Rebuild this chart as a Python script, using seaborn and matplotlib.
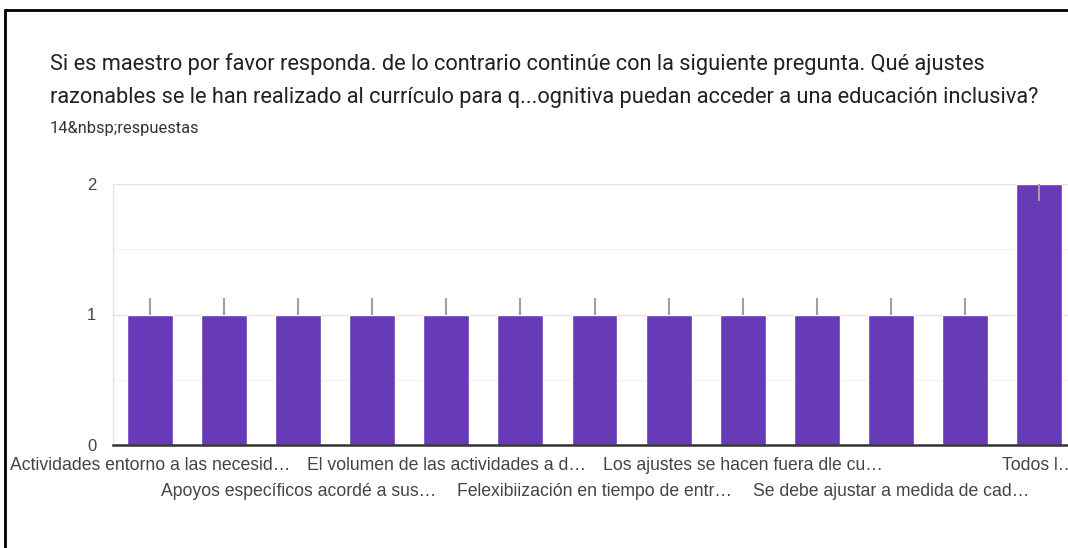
import numpy as np
import pandas as pd
import matplotlib.pyplot as plt
import seaborn as sns
from matplotlib.lines import Line2D

# Datos (13 opciones, solo se ven las etiquetas alternas)
etiquetas = [
    'Actividades entorno a las necesid…', '',
    'Apoyos específicos acordé a sus…', '',
    'El volumen de las actividades a d…', '',
    'Felexibiización en tiempo de entr…', '',
    'Los ajustes se hacen fuera dle cu…', '',
    'Se debe ajustar a medida de cad…', '',
    'Todos l…',
]
valores = [1, 1, 1, 1, 1, 1, 1, 1, 1, 1, 1, 1, 2]
titulo = ('Si es maestro por favor responda. de lo contrario continúe con la siguiente pregunta. Qué ajustes\n'
          'razonables se le han realizado al currículo para q...ognitiva puedan acceder a una educación inclusiva?')
subtitulo = '14&nbsp;respuestas'

sns.set_theme(style="white")
plt.rcParams['font.family'] = ['Liberation Sans', 'DejaVu Sans']

df = pd.DataFrame({'pos': np.arange(len(valores)), 'valor': valores})

fig = plt.figure(figsize=(10.68, 5.48), dpi=100)
ax = fig.add_axes([113 / 1068, 103 / 548, 963 / 1068, 261 / 548])

sns.barplot(data=df, x='pos', y='valor', color='#673ab7', saturation=1,
            width=0.62, ax=ax, zorder=3)

# pequenas lineas grises sobre las barras
vmax = max(valores)
for i, v in enumerate(valores):
    if v < vmax:
        ax.vlines(i, v, v + 0.13, color='#a0a0a0', lw=1.5, zorder=4)
    else:
        ax.vlines(i, v - 0.13, v, color='#a0a0a0', lw=1.5, zorder=4)

ax.set_ylim(0, 2)
ax.set_xlim(-0.5, len(valores) - 0.5)
ax.set_yticks([0, 1, 2])
ax.set_yticks([0.5, 1.5], minor=True)
ax.grid(axis='y', which='major', color='#e4e4e4', lw=1, zorder=0)
ax.grid(axis='y', which='minor', color='#f3f3f3', lw=1, zorder=0)
ax.tick_params(axis='y', which='both', length=0, pad=12, labelsize=12, labelcolor='#444444')
ax.tick_params(axis='x', length=0, labelsize=12.7, labelcolor='#444444', pad=9)

ax.set_xticks(df['pos'])
ax.set_xticklabels(etiquetas)
for k, t in enumerate(ax.xaxis.get_major_ticks()):
    if k % 4 == 2:
        t.set_pad(27)

ax.set_xlabel('')
ax.set_ylabel('')
for s in ['top', 'right']:
    ax.spines[s].set_visible(False)
ax.spines['left'].set_color('#e4e4e4')
ax.spines['left'].set_linewidth(1)
ax.spines['bottom'].set_color('#333333')
ax.spines['bottom'].set_linewidth(1.8)
ax.spines['bottom'].set_zorder(5)

fig.text(50 / 1068, 1 - 53 / 548, titulo, fontsize=15.7, color='#202124',
         family=['Roboto', 'DejaVu Sans'], va='top', ha='left', linespacing=1.78)
fig.text(50 / 1068, 1 - 129 / 548, subtitulo, fontsize=11.8, color='#333333',
         family=['Roboto', 'DejaVu Sans'], va='center', ha='left')

# marco negro de la captura
fig.add_artist(Line2D([5 / 1068, 1], [1 - 10 / 548, 1 - 10 / 548], color='black', lw=2))
fig.add_artist(Line2D([5 / 1068, 5 / 1068], [0, 1 - 10 / 548], color='black', lw=2))

fig.savefig('out.png', dpi=100)
